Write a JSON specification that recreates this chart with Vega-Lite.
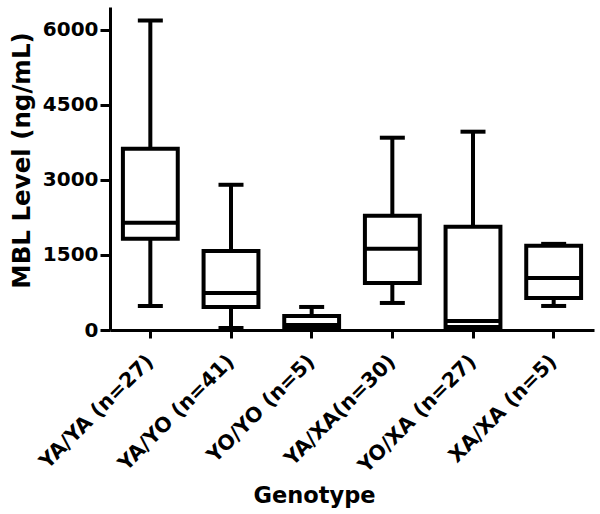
{
  "$schema": "https://vega.github.io/schema/vega-lite/v6.json",
  "autosize": {"type": "none"},
  "padding": {"left": 110, "top": 7, "right": 6, "bottom": 184},
  "width": 484,
  "height": 323,
  "background": "white",
  "data": {
    "values": [
      {"genotype": "YA/YA (n=27)", "min": 480, "q1": 1820, "median": 2140, "q3": 3620, "max": 6180},
      {"genotype": "YA/YO (n=41)", "min": 40, "q1": 460, "median": 740, "q3": 1580, "max": 2900},
      {"genotype": "YO/YO (n=5)", "min": 0, "q1": 20, "median": 100, "q3": 280, "max": 460},
      {"genotype": "YA/XA(n=30)", "min": 540, "q1": 940, "median": 1620, "q3": 2280, "max": 3840},
      {"genotype": "YO/XA (n=27)", "min": 0, "q1": 60, "median": 180, "q3": 2060, "max": 3960},
      {"genotype": "XA/XA (n=5)", "min": 480, "q1": 640, "median": 1040, "q3": 1680, "max": 1720}
    ]
  },
  "encoding": {
    "x": {
      "field": "genotype",
      "type": "nominal",
      "sort": null,
      "scale": {"paddingInner": 0, "paddingOuter": 0},
      "axis": {
        "title": "Genotype",
        "labelAngle": -45,
        "labelFont": "DejaVu Sans",
        "labelFontWeight": "bold",
        "labelFontSize": 20.5,
        "labelColor": "black",
        "labelPadding": 13,
        "labelOffset": -7,
        "titleFont": "DejaVu Sans",
        "titleFontWeight": "bold",
        "titleFontSize": 22.5,
        "titleColor": "black",
        "titleX": 204,
        "titleY": 172,
        "titleBaseline": "alphabetic",
        "titleAlign": "center",
        "domainColor": "black",
        "domainWidth": 3,
        "tickColor": "black",
        "tickWidth": 3,
        "tickSize": 8
      }
    }
  },
  "layer": [
    {
      "mark": {"type": "rule", "color": "black", "strokeWidth": 4},
      "encoding": {
        "y": {
          "field": "min",
          "type": "quantitative",
          "scale": {"domain": [0, 6450], "nice": false, "zero": true},
          "axis": {
            "title": "MBL Level (ng/mL)",
            "values": [0, 1500, 3000, 4500, 6000],
            "format": "d",
            "grid": false,
            "labelFont": "DejaVu Sans",
            "labelFontWeight": "bold",
            "labelFontSize": 20,
            "labelColor": "black",
            "labelPadding": 2,
            "titleFont": "DejaVu Sans",
            "titleFontWeight": "bold",
            "titleFontSize": 24.5,
            "titleColor": "black",
            "titleX": -88,
            "titleY": 153,
            "titleAngle": -90,
            "titleAlign": "center",
            "titleBaseline": "middle",
            "domainColor": "black",
            "domainWidth": 3,
            "tickColor": "black",
            "tickWidth": 3,
            "tickSize": 10
          }
        },
        "y2": {"field": "max"}
      }
    },
    {
      "mark": {"type": "bar", "fill": "white", "stroke": "black", "strokeWidth": 4, "width": {"band": 0.68}},
      "encoding": {
        "y": {"field": "q1", "type": "quantitative"},
        "y2": {"field": "q3"}
      }
    },
    {
      "mark": {"type": "tick", "color": "black", "thickness": 4, "size": 55, "opacity": 1},
      "encoding": {"y": {"field": "median", "type": "quantitative"}}
    },
    {
      "mark": {"type": "tick", "color": "black", "thickness": 4, "size": 25, "opacity": 1},
      "encoding": {"y": {"field": "max", "type": "quantitative"}}
    },
    {
      "mark": {"type": "tick", "color": "black", "thickness": 4, "size": 25, "opacity": 1},
      "encoding": {"y": {"field": "min", "type": "quantitative"}}
    }
  ],
  "config": {"view": {"stroke": null}}
}
